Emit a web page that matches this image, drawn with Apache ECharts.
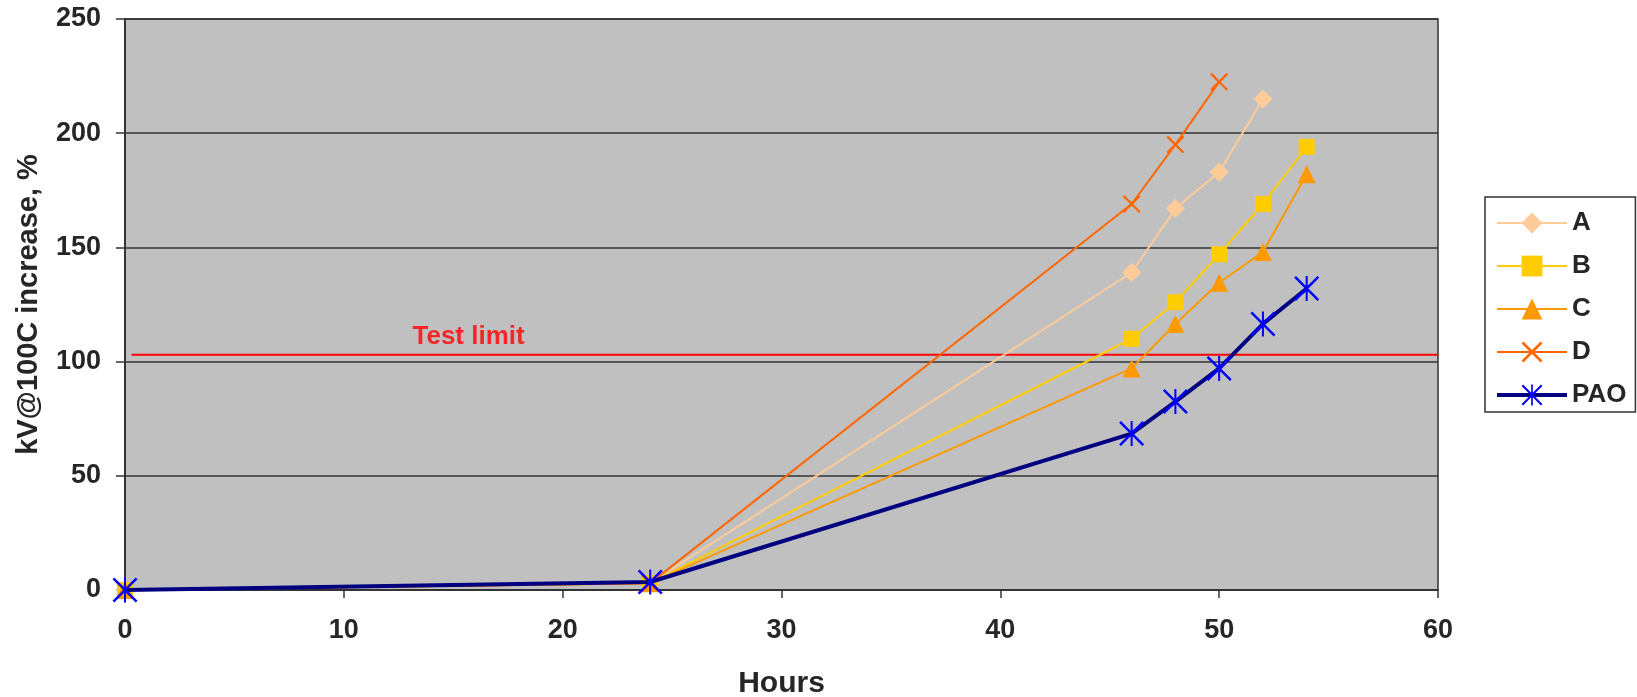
<!DOCTYPE html>
<html>
<head>
<meta charset="utf-8">
<script src="https://cdn.jsdelivr.net/npm/echarts@6/dist/echarts.min.js"></script>
<style>
html,body{margin:0;padding:0;background:#fff;}
#chart{width:1637px;height:697px;}
</style>
</head>
<body>
<div id="chart"></div>
<script>
// Data
const hours = [0, 24, 46, 48, 50, 52, 54];
const seriesA = [0, 3, 139, 167, 183, 215];
const seriesB = [0, 3, 110, 126, 147, 169, 194];
const seriesC = [0, 3, 97, 116.5, 134.5, 148, 182];
const seriesD = [0, 3, 169, 195, 222.5];
const seriesPAO = [0, 3.5, 68.5, 82.5, 97, 116.5, 132];
const testLimitValue = 103;
const testLimitX = [0.3, 60];
const testLimitLabelX = 15.7;
const xTicks = { min: 0, max: 60, interval: 10 };
const yTicks = { min: 0, max: 250, interval: 50 };
const legendNames = ['A', 'B', 'C', 'D', 'PAO'];

function pairs(vals) { return vals.map((v, i) => [hours[i], v]); }

const FONT = 'Liberation Sans, Arial, sans-serif';
const TXT = '#262626';
const X_PATH = 'path://M0,9 L9,0 L100,91 L91,100 Z M91,0 L100,9 L9,100 L0,91 Z';
const STAR_PATH = 'path://M0,7 L7,0 L100,93 L93,100 Z M93,0 L100,7 L7,100 L0,93 Z M46,0 L54,0 L54,100 L46,100 Z';
const lineWidths = { A: 2, B: 2, C: 2, D: 2, PAO: 4 };

const chart = echarts.init(document.getElementById('chart'));
chart.setOption({
  animation: false,
  backgroundColor: '#ffffff',
  grid: {
    left: 125, right: 199, top: 19, bottom: 107,
    containLabel: false, outerBoundsMode: 'none',
    show: true, backgroundColor: '#C0C0C0', borderColor: '#333', borderWidth: 1.5
  },
  legend: {
    left: 1485, top: 197,
    orient: 'vertical',
    data: legendNames.map(n => ({ name: n, lineStyle: { width: lineWidths[n] } })),
    itemWidth: 70, itemHeight: 26, itemGap: 17,
    padding: [13, 9, 4, 10],
    backgroundColor: '#fff',
    borderColor: '#333', borderWidth: 1.5,
    textStyle: { fontFamily: FONT, fontWeight: 'bold', fontSize: 26, color: TXT }
  },
  xAxis: {
    type: 'value', min: xTicks.min, max: xTicks.max, interval: xTicks.interval,
    name: 'Hours', nameLocation: 'middle', nameGap: 79,
    nameTextStyle: { fontFamily: FONT, fontWeight: 'bold', fontSize: 30, color: TXT },
    axisLine: { show: true, lineStyle: { color: '#333', width: 2 } },
    axisTick: { show: true, inside: false, length: 8, lineStyle: { color: '#333', width: 1.5 } },
    axisLabel: { margin: 27, fontFamily: FONT, fontWeight: 'bold', fontSize: 27, color: TXT },
    splitLine: { show: false }
  },
  yAxis: {
    type: 'value', min: yTicks.min, max: yTicks.max, interval: yTicks.interval,
    name: 'kV@100C increase, %', nameLocation: 'middle', nameGap: 82,
    nameTextStyle: { fontFamily: FONT, fontWeight: 'bold', fontSize: 29, color: TXT },
    axisLine: { show: true, lineStyle: { color: '#333', width: 2 } },
    axisTick: { show: true, inside: false, length: 9, lineStyle: { color: '#333', width: 1.5 } },
    axisLabel: { margin: 24, fontFamily: FONT, fontWeight: 'bold', fontSize: 27, color: TXT },
    splitLine: { show: true, lineStyle: { color: '#333', width: 1.5 } }
  },
  series: [
    {
      name: 'Test limit', type: 'line', data: testLimitX.map(x => [x, testLimitValue]),
      symbol: 'none', lineStyle: { color: '#FF0000', width: 2 }, silent: true, z: 1
    },
    {
      name: 'Test limit label', type: 'scatter', data: [[testLimitLabelX, testLimitValue]],
      symbolSize: 0, silent: true,
      label: { show: true, position: 'top', distance: 5, formatter: 'Test limit',
        fontFamily: FONT, fontWeight: 'bold', fontSize: 26, color: '#FF0000' }
    },
    {
      name: 'A', type: 'line', data: pairs(seriesA), clip: false,
      symbol: 'diamond', symbolSize: 19,
      lineStyle: { color: '#FFCC99', width: lineWidths.A }, itemStyle: { color: '#FFCC99' }, z: 3
    },
    {
      name: 'B', type: 'line', data: pairs(seriesB), clip: false,
      symbol: 'rect', symbolSize: 16,
      lineStyle: { color: '#FFCC00', width: lineWidths.B }, itemStyle: { color: '#FFCC00' }, z: 3
    },
    {
      name: 'C', type: 'line', data: pairs(seriesC), clip: false,
      symbol: 'triangle', symbolSize: 18,
      lineStyle: { color: '#FF9900', width: lineWidths.C }, itemStyle: { color: '#FF9900' }, z: 3
    },
    {
      name: 'D', type: 'line', data: pairs(seriesD), clip: false,
      symbol: X_PATH, symbolSize: 18,
      lineStyle: { color: '#FF6600', width: lineWidths.D }, itemStyle: { color: '#FF6600' }, z: 3
    },
    {
      name: 'PAO', type: 'line', data: pairs(seriesPAO), clip: false,
      symbol: STAR_PATH, symbolSize: 25,
      lineStyle: { color: '#000080', width: lineWidths.PAO }, itemStyle: { color: '#0000FF' }, z: 4
    }
  ]
});
</script>
</body>
</html>
